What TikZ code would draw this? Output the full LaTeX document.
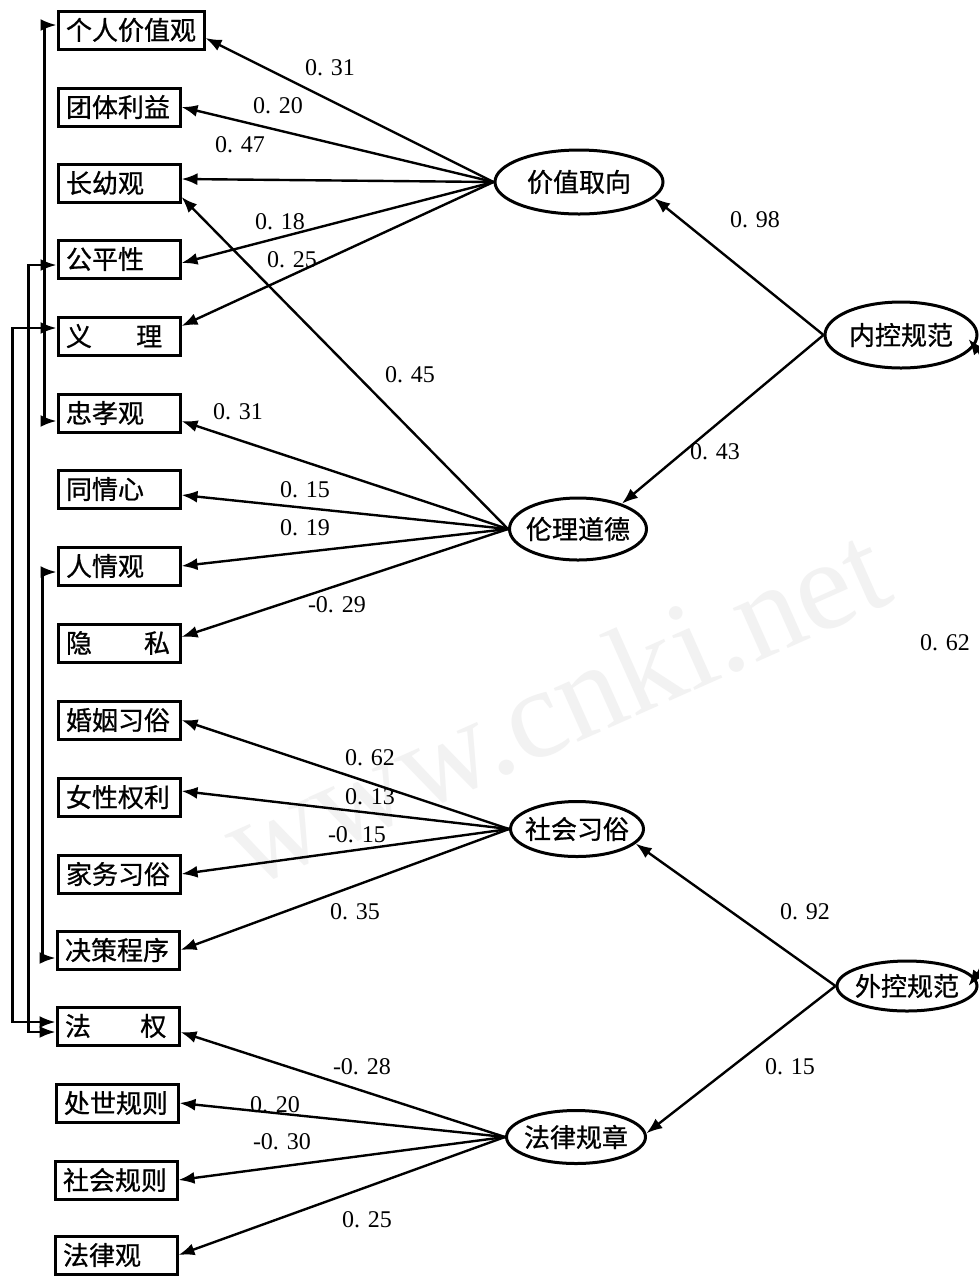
\documentclass[tikz,border=0pt]{standalone}
\usepackage{fontspec}
\setmainfont{Liberation Serif}
\newfontfamily\cjk[AutoFakeBold=0.8]{Noto Sans CJK SC}
\usetikzlibrary{arrows.meta,shapes.geometric,calc}
\newcommand\ztext[1]{\makebox[0pt]{#1}}
\begin{document}
\begin{tikzpicture}[x=0.5pt,y=-0.5pt,
  obs/.style={draw,line width=1.5pt,text width=53pt,align=left,inner xsep=4pt,inner ysep=0pt,minimum height=19pt,font=\cjk\bfseries\fontsize{13}{13}\selectfont},
  lat/.style={draw,ellipse,line width=1.5pt,inner sep=0pt,font=\cjk\bfseries\fontsize{13}{13}\selectfont},
  arr/.style={line width=1.2pt,-{Latex[length=8pt,width=6pt]}},
  dbl/.style={line width=1.2pt,{Latex[length=8pt,width=6pt]}-{Latex[length=8pt,width=6pt]}},
  lab/.style={font=\fontsize{12}{12}\selectfont,inner sep=0pt}]
\useasboundingbox (0,0) rectangle (979,1276);
\clip (0,0) rectangle (979,1276);
\fill[white] (0,0) rectangle (979,1276);
% watermark
\node[rotate=24,text=black!5,font=\fontsize{64}{64}\selectfont] (wm) at (555,705) {www.cnki.net};

% observed variables
\node[obs,text width=65pt] (gr) at (131,30) {个人价值观};
\node[obs] (tt) at (119,107) {团体利益};
\node[obs] (zy) at (119,183) {长幼观};
\node[obs] (gp) at (119,259) {公平性};
\node[obs] (yl) at (119,336) {\makebox[53pt][l]{义\hspace{1.7em}理}};
\node[obs] (zx) at (119,413) {忠孝观};
\node[obs] (tq) at (119,489) {同情心};
\node[obs] (rq) at (119,566) {人情观};
\node[obs] (ys) at (119,643) {\makebox[53pt][l]{隐\hspace{2.0em}私}};
\node[obs] (hy) at (119,720) {婚姻习俗};
\node[obs] (nx) at (119,797) {女性权利};
\node[obs] (jw) at (119,874) {家务习俗};
\node[obs] (jc) at (118,950) {决策程序};
\node[obs] (fq) at (118,1026) {\makebox[53pt][l]{法\hspace{1.9em}权}};
\node[obs] (cs) at (117,1103) {处世规则};
\node[obs] (sg) at (116,1180) {社会规则};
\node[obs] (fg) at (116,1255) {法律观};

% latent variables
\node[lat,minimum width=84pt,minimum height=32pt] (jz) at (579,182) {\ztext{价值取向}};
\node[lat,minimum width=68.5pt,minimum height=31pt] (ld) at (578,529) {\ztext{伦理道德}};
\node[lat,minimum width=66.5pt,minimum height=27.5pt] (sh) at (577,829) {\ztext{社会习俗}};
\node[lat,minimum width=69.5pt,minimum height=26.5pt] (fz) at (576,1137) {\ztext{法律规章}};
\node[lat,minimum width=76pt,minimum height=33pt] (nk) at (901,335) {\ztext{内控规范}};
\node[lat,minimum width=70pt,minimum height=25pt] (wk) at (907,986) {\ztext{外控规范}};

% loadings
\draw[arr] (jz.west) -- ([yshift=-4pt]gr.east);
\draw[arr] (jz.west) -- (tt.east);
\draw[arr] (jz.west) -- ([yshift=2pt]zy.east);
\draw[arr] (jz.west) -- ([yshift=-2pt]gp.east);
\draw[arr] (jz.west) -- ([yshift=5pt]yl.east);
\draw[arr] (ld.west) -- ([yshift=-7pt]zy.east);
\draw[arr] (ld.west) -- ([yshift=-4pt]zx.east);
\draw[arr] (ld.west) -- ([yshift=-3pt]tq.east);
\draw[arr] (ld.west) -- (rq.east);
\draw[arr] (ld.west) -- ([yshift=3pt]ys.east);
\draw[arr] (sh.west) -- (hy.east);
\draw[arr] (sh.west) -- ([yshift=3pt]nx.east);
\draw[arr] (sh.west) -- (jw.east);
\draw[arr] (sh.west) -- (jc.east);
\draw[arr] (fz.west) -- ([yshift=-3pt]fq.east);
\draw[arr] (fz.west) -- (cs.east);
\draw[arr] (fz.west) -- (sg.east);
\draw[arr] (fz.west) -- (fg.east);

% structural paths
\draw[arr] (nk.west) -- (jz.-12);
\draw[arr] (nk.west) -- (ld.30);
\draw[arr] (wk.west) -- (sh.-14);
\draw[arr] (wk.west) -- (fz.3);
\draw[dbl] ([xshift=-5pt,yshift=-2pt]nk.east) .. controls (1010,390) and (1010,930) .. ([xshift=-5pt]wk.east);

% correlated errors on the left
\draw[dbl] ([yshift=2.5pt]gr.west) -- ++(-12,0) |- ([yshift=-4pt]zx.west);
\draw[dbl] ([yshift=-3pt]gp.west) -- ++(-28,0) |- ([yshift=-3pt]fq.west);
\draw[dbl] ([yshift=4pt]yl.west) -- ++(-44,0) |- ([yshift=2pt]fq.west);
\draw[dbl] ([yshift=-3pt]rq.west) -- ++(-14,0) |- ([yshift=-4pt]jc.west);

% labels
\node[lab] at (330,68) {0. 31};
\node[lab] at (278,106) {0. 20};
\node[lab] at (240,145) {0. 47};
\node[lab] at (280,222) {0. 18};
\node[lab] at (292,260) {0. 25};
\node[lab] at (410,375) {0. 45};
\node[lab] at (755,220) {0. 98};
\node[lab] at (715,452) {0. 43};
\node[lab] at (238,412) {0. 31};
\node[lab] at (305,490) {0. 15};
\node[lab] at (305,528) {0. 19};
\node[lab] at (337,605) {-0. 29};
\node[lab] at (370,758) {0. 62};
\node[lab] at (370,797) {0. 13};
\node[lab] at (357,835) {-0. 15};
\node[lab] at (355,912) {0. 35};
\node[lab] at (805,912) {0. 92};
\node[lab] at (790,1067) {0. 15};
\node[lab] at (362,1067) {-0. 28};
\node[lab] at (275,1105) {0. 20};
\node[lab] at (282,1142) {-0. 30};
\node[lab] at (367,1220) {0. 25};
\node[lab] at (945,643) {0. 62};
\end{tikzpicture}
\end{document}
